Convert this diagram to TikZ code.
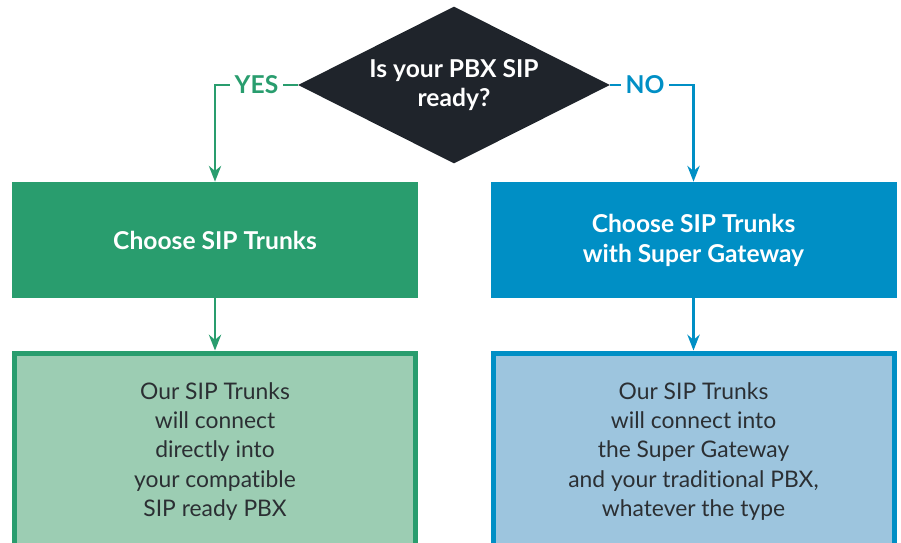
\documentclass[tikz,border=0pt]{standalone}
\usepackage{fontspec}
\setmainfont{Lato}[Ligatures=NoCommon]
\usepackage{xcolor}
\definecolor{sipgreen}{RGB}{41,157,110}
\definecolor{sipgreenlight}{RGB}{156,205,179}
\definecolor{sipblue}{RGB}{0,143,197}
\definecolor{sipbluelight}{RGB}{157,197,222}
\definecolor{question}{RGB}{31,36,43}
\definecolor{bodytext}{RGB}{43,47,51}
\usetikzlibrary{shapes.geometric}
\usetikzlibrary{arrows.meta}
\usetikzlibrary{positioning}

\tikzset{
  choicebox/.style={rectangle, minimum width=8.12cm, minimum height=2.32cm, align=center,
    text=white, font=\fontsize{14}{17}\selectfont\bfseries, inner sep=0pt},
  infobox/.style={rectangle, line width=0.1cm, minimum width=8.02cm, minimum height=3.94cm,
    align=center, text=bodytext, font=\fontsize{13}{16.7}\selectfont, inner sep=0pt},
  branch/.style={line width=1.3pt},
  branchtip/.style={-{Stealth[length=9pt,width=7pt]}},
  answer/.style={font=\fontsize{14}{16}\selectfont\bfseries, inner xsep=2.5pt, inner ysep=0pt}
}

\begin{document}
\begin{tikzpicture}
  \useasboundingbox (0,0) rectangle (18.02,-10.84);
  \clip (0,0) rectangle (18.02,-10.84);

  % Question
  \node[diamond, fill=question, text=white, minimum width=6.24cm, minimum height=3.14cm,
    inner sep=0pt, aspect=2, align=center, font=\fontsize{14}{17}\selectfont\bfseries]
    (ready) at (9.08,-1.7) {Is your PBX SIP\\ready?};

  % Choices
  \node[choicebox, fill=sipgreen] (trunks) at (4.3,-4.8) {Choose SIP Trunks};
  \node[choicebox, fill=sipblue] (gateway) at (13.87,-4.8) {Choose SIP Trunks\\with Super Gateway};

  % Details
  \node[infobox, draw=sipgreen, fill=sipgreenlight] (direct) at (4.3,-9.03)
    {Our SIP Trunks\\will connect\\directly into\\your compatible\\SIP ready PBX};
  \node[infobox, draw=sipblue, fill=sipbluelight] (traditional) at (13.87,-9.03)
    {Our SIP Trunks\\will connect into\\the Super Gateway\\and your traditional PBX,\\whatever the type};

  % Answers
  \node[answer, text=sipgreen] (yes) at (5.13,-1.7) {YES};
  \node[answer, text=sipblue] (no) at (12.9,-1.7) {NO};

  \draw[branch, sipgreen] (ready.west) -- (yes.east);
  \draw[branch, branchtip, sipgreen] (yes.west) -| (trunks.north);
  \draw[branch, sipblue] (ready.east) -- (no.west);
  \draw[branch, branchtip, sipblue] (no.east) -| (gateway.north);

  \draw[branch, branchtip, sipgreen] (trunks.south) -- (direct.north);
  \draw[branch, branchtip, sipblue] (gateway.south) -- (traditional.north);

\end{tikzpicture}
\end{document}
